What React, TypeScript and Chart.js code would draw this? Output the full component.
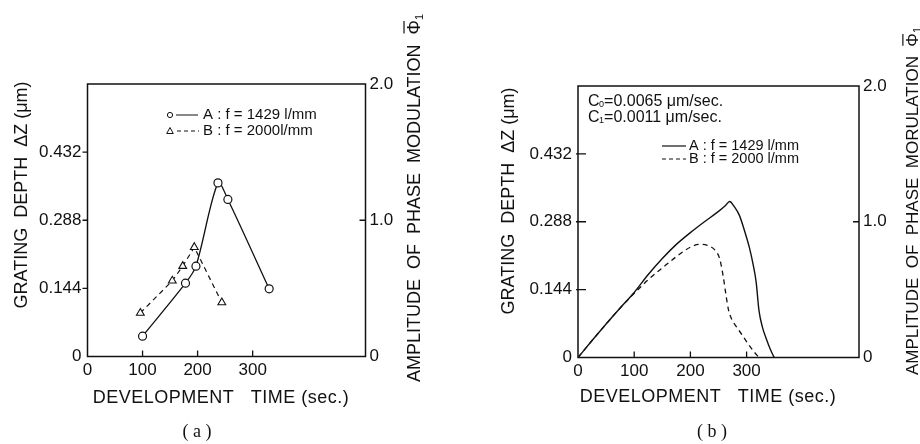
import React, { useEffect, useRef } from "react";
import { Chart, registerables } from "chart.js";

Chart.register(...registerables);

const FONT = "'Liberation Sans', Arial, sans-serif";
const SERIF = "'Liberation Serif', 'Times New Roman', serif";
const INK = "#111111";

// ---------- Panel (a): measured points ----------
const timeA1429 = [100, 178, 197, 237, 255, 330];
const depthA1429 = [0.043, 0.155, 0.191, 0.367, 0.332, 0.143];
const timeA2000 = [96, 154, 173, 194, 244];
const depthA2000 = [0.092, 0.16, 0.191, 0.231, 0.114];

// ---------- Panel (b): calculated curves ----------
const timeB1429 = [0, 25, 50, 75, 100, 125, 150, 175, 200, 225, 250, 262, 270, 277, 287, 296, 305, 312, 317, 322, 328, 335, 342, 349];
const depthB1429 = [0, 0.036, 0.071, 0.105, 0.138, 0.176, 0.21, 0.24, 0.265, 0.288, 0.31, 0.322, 0.331, 0.322, 0.302, 0.27, 0.233, 0.195, 0.16, 0.1, 0.065, 0.04, 0.018, 0];
const timeB2000 = [0, 25, 50, 75, 100, 125, 150, 175, 200, 215, 230, 245, 252, 258, 263, 268, 274, 282, 292, 302, 312, 322];
const depthB2000 = [0, 0.036, 0.071, 0.105, 0.136, 0.165, 0.19, 0.214, 0.234, 0.24, 0.238, 0.226, 0.21, 0.175, 0.135, 0.1, 0.08, 0.065, 0.048, 0.03, 0.014, 0];

// ---------- Axis ticks ----------
const depthTicks = [0, 0.144, 0.288, 0.432];
const phaseTicks = [0, 1.0, 2.0];
const timeTicks = [0, 100, 200, 300];
const DEPTH_MAX = 0.576;
const PHASE_MAX = 2.0;

const W = 460;
const H = 444;

const toXY = (xs: number[], ys: number[]) => xs.map((x, i) => ({ x, y: ys[i] }));

function drawRotated(ctx: CanvasRenderingContext2D, text: string, cx: number, cy: number, withPhi: boolean, size = 18) {
  ctx.save();
  ctx.translate(cx, cy);
  ctx.rotate(-Math.PI / 2);
  ctx.font = `${size}px ${FONT}`;
  ctx.fillStyle = INK;
  ctx.textBaseline = "alphabetic";
  ctx.textAlign = "left";
  const main = withPhi ? text + "  " : text;
  const wMain = ctx.measureText(main).width;
  let wPhi = 0;
  let wSub = 0;
  if (withPhi) {
    wPhi = ctx.measureText("Φ").width;
    ctx.font = `11px ${FONT}`;
    wSub = ctx.measureText("1").width;
    ctx.font = `${size}px ${FONT}`;
  }
  const total = wMain + wPhi + wSub;
  const x0 = -total / 2;
  const base = 6.5;
  ctx.fillText(main, x0, base);
  if (withPhi) {
    ctx.fillText("Φ", x0 + wMain, base);
    ctx.strokeStyle = INK;
    ctx.lineWidth = 1.2;
    ctx.beginPath();
    ctx.moveTo(x0 + wMain + 1, base - size * 0.86);
    ctx.lineTo(x0 + wMain + wPhi - 1, base - size * 0.86);
    ctx.stroke();
    ctx.font = `11px ${FONT}`;
    ctx.fillText("1", x0 + wMain + wPhi, base + 3);
  }
  ctx.restore();
}

function drawCenteredText(ctx: CanvasRenderingContext2D, text: string, cx: number, cy: number, font: string, spacing = "0px") {
  ctx.save();
  ctx.font = font;
  (ctx as any).letterSpacing = spacing;
  ctx.fillStyle = INK;
  ctx.textAlign = "center";
  ctx.textBaseline = "middle";
  ctx.fillText(text, cx, cy);
  ctx.restore();
}

type Spec = {
  area: { left: number; right: number; top: number; bottom: number };
  xMax: number;
  datasets: any[];
  leftTickOut: boolean;
  leftTitle: [number, number];
  rightTitle: [number, number];
  rightTitleText: string;
  rightTitleSize: number;
  xTitle: [number, number];
  caption: [number, number];
  captionText: string;
  extras: (ctx: CanvasRenderingContext2D) => void;
};

function makePlugin(spec: Spec) {
  return {
    id: "panelExtras",
    afterDraw(chart: any) {
      const ctx: CanvasRenderingContext2D = chart.ctx;
      const { left, right, top, bottom } = chart.chartArea;
      const xs = chart.scales.x;
      const ys = chart.scales.y;
      const y2 = chart.scales.y2;
      ctx.save();
      ctx.strokeStyle = INK;
      ctx.lineWidth = 1.5;
      ctx.strokeRect(left, top, right - left, bottom - top);
      ctx.lineWidth = 1.3;
      ctx.beginPath();
      timeTicks.filter((v) => v > 0).forEach((v) => {
        const px = xs.getPixelForValue(v);
        ctx.moveTo(px, bottom);
        ctx.lineTo(px, bottom - 6);
      });
      depthTicks.filter((v) => v > 0).forEach((v) => {
        const py = ys.getPixelForValue(v);
        if (spec.leftTickOut) {
          ctx.moveTo(left - 5, py);
          ctx.lineTo(left, py);
        } else {
          ctx.moveTo(left - 2, py);
          ctx.lineTo(left + 8, py);
        }
      });
      phaseTicks.filter((v) => v > 0 && v < PHASE_MAX).forEach((v) => {
        const py = y2.getPixelForValue(v);
        ctx.moveTo(right - 6, py);
        ctx.lineTo(right, py);
      });
      ctx.stroke();
      ctx.restore();

      drawRotated(ctx, "GRATING  DEPTH  ΔZ (μm)", spec.leftTitle[0], spec.leftTitle[1], false);
      drawRotated(ctx, spec.rightTitleText, spec.rightTitle[0], spec.rightTitle[1], true, spec.rightTitleSize);
      drawCenteredText(ctx, "DEVELOPMENT   TIME (sec.)", spec.xTitle[0], spec.xTitle[1], `18px ${FONT}`, "0.5px");
      drawCenteredText(ctx, spec.captionText, spec.caption[0], spec.caption[1], `18px ${SERIF}`);
      ctx.save();
      spec.extras(ctx);
      ctx.restore();
    },
  };
}

function Panel({ spec, offsetX }: { spec: Spec; offsetX: number }) {
  const ref = useRef<HTMLCanvasElement>(null);
  useEffect(() => {
    const canvas = ref.current!;
    const a = spec.area;
    const tickFont = { family: FONT, size: 17 };
    const noGrid = { display: false, drawTicks: false };
    const chart = new Chart(canvas, {
      type: "line",
      data: { datasets: spec.datasets },
      options: {
        responsive: false,
        animation: false,
        devicePixelRatio: 1,
        layout: { padding: { top: a.top, left: 0, right: 0, bottom: 0 } },
        plugins: { legend: { display: false }, tooltip: { enabled: false }, title: { display: false } },
        scales: {
          x: {
            type: "linear",
            min: 0,
            max: spec.xMax,
            grid: noGrid,
            border: { display: false },
            ticks: { font: tickFont, color: INK, padding: 4, maxRotation: 0, autoSkip: false, callback: (v: any) => String(v) },
            afterBuildTicks: (s: any) => {
              s.ticks = timeTicks.map((v) => ({ value: v }));
            },
            afterFit: (s: any) => {
              s.height = H - a.bottom;
            },
          },
          y: {
            type: "linear",
            position: "left",
            min: 0,
            max: DEPTH_MAX,
            grid: noGrid,
            border: { display: false },
            ticks: { font: tickFont, color: INK, padding: 6, callback: (v: any) => (v === 0 ? "0" : Number(v).toFixed(3)) },
            afterBuildTicks: (s: any) => {
              s.ticks = depthTicks.map((v) => ({ value: v }));
            },
            afterFit: (s: any) => {
              s.width = a.left;
            },
          },
          y2: {
            type: "linear",
            position: "right",
            min: 0,
            max: PHASE_MAX,
            grid: noGrid,
            border: { display: false },
            ticks: { font: tickFont, color: INK, padding: 4, callback: (v: any) => (v === 0 ? "0" : Number(v).toFixed(1)) },
            afterBuildTicks: (s: any) => {
              s.ticks = phaseTicks.map((v) => ({ value: v }));
            },
            afterFit: (s: any) => {
              s.width = W - a.right;
            },
          },
        },
      } as any,
      plugins: [makePlugin(spec) as any],
    });
    return () => chart.destroy();
  }, []);
  return (
    <canvas
      ref={ref}
      width={W}
      height={H}
      style={{ position: "absolute", left: offsetX, top: 0, width: W, height: H, display: "block" }}
    />
  );
}

const specA: Spec = {
  area: { left: 87.5, right: 365.5, top: 84, bottom: 356.5 },
  xMax: 505,
  leftTickOut: true,
  datasets: [
    {
      label: "A : f = 1429 l/mm",
      data: toXY(timeA1429, depthA1429),
      borderColor: INK,
      borderWidth: 1.3,
      tension: 0.3,
      pointStyle: "circle",
      pointRadius: 4,
      pointBackgroundColor: "#ffffff",
      pointBorderColor: INK,
      pointBorderWidth: 1.2,
      yAxisID: "y",
    },
    {
      label: "B : f = 2000l/mm",
      data: toXY(timeA2000, depthA2000),
      borderColor: INK,
      borderWidth: 1.2,
      borderDash: [5, 4],
      tension: 0,
      pointStyle: "triangle",
      pointRadius: 4.5,
      pointBackgroundColor: "#ffffff",
      pointBorderColor: INK,
      pointBorderWidth: 1.1,
      yAxisID: "y",
    },
  ],
  leftTitle: [20, 195],
  rightTitle: [413, 198],
  rightTitleText: "AMPLITUDE  OF  PHASE  MODULATION",
  rightTitleSize: 18,
  xTitle: [221, 398],
  caption: [197, 432],
  captionText: "( a )",
  extras: (ctx) => {
    ctx.strokeStyle = INK;
    ctx.fillStyle = INK;
    ctx.lineWidth = 1;
    ctx.font = `15px ${FONT}`;
    ctx.textBaseline = "middle";
    ctx.textAlign = "left";
    // row 1
    ctx.beginPath();
    ctx.arc(170, 115, 2.6, 0, Math.PI * 2);
    ctx.stroke();
    ctx.beginPath();
    ctx.moveTo(176, 115);
    ctx.lineTo(198, 115);
    ctx.stroke();
    ctx.fillText("A : f = 1429 l/mm", 203, 115);
    // row 2
    ctx.beginPath();
    ctx.moveTo(170, 127.5);
    ctx.lineTo(173.3, 133.5);
    ctx.lineTo(166.7, 133.5);
    ctx.closePath();
    ctx.stroke();
    ctx.setLineDash([4, 3]);
    ctx.beginPath();
    ctx.moveTo(177, 131);
    ctx.lineTo(199, 131);
    ctx.stroke();
    ctx.setLineDash([]);
    ctx.fillText("B : f = 2000l/mm", 203, 131);
  },
};

const specB: Spec = {
  area: { left: 118, right: 399, top: 86, bottom: 357.5 },
  xMax: 500,
  leftTickOut: false,
  datasets: [
    {
      label: "A : f = 1429 l/mm",
      data: toXY(timeB1429, depthB1429),
      borderColor: INK,
      borderWidth: 1.4,
      cubicInterpolationMode: "monotone",
      pointRadius: 0,
      yAxisID: "y",
    },
    {
      label: "B : f = 2000 l/mm",
      data: toXY(timeB2000, depthB2000),
      borderColor: INK,
      borderWidth: 1.3,
      borderDash: [5, 4],
      cubicInterpolationMode: "monotone",
      pointRadius: 0,
      yAxisID: "y",
    },
  ],
  leftTitle: [47, 201],
  rightTitle: [451, 201],
  rightTitleText: "AMPLITUDE  OF  PHASE  MORULATION",
  rightTitleSize: 17,
  xTitle: [248, 397],
  caption: [252, 432],
  captionText: "( b )",
  extras: (ctx) => {
    ctx.strokeStyle = INK;
    ctx.fillStyle = INK;
    ctx.textBaseline = "alphabetic";
    ctx.textAlign = "left";
    const cLine = (y: number, sub: string, rest: string) => {
      ctx.font = `16px ${FONT}`;
      ctx.fillText("C", 128, y);
      const wc = ctx.measureText("C").width;
      ctx.font = `9px ${FONT}`;
      ctx.fillText(sub, 128 + wc - 0.5, y + 1);
      const ws = ctx.measureText(sub).width;
      ctx.font = `16px ${FONT}`;
      ctx.fillText(rest, 128 + wc + ws - 0.5, y);
    };
    cLine(105.5, "0", "=0.0065 μm/sec.");
    cLine(122, "1", "=0.0011 μm/sec.");
    ctx.lineWidth = 1.2;
    ctx.beginPath();
    ctx.moveTo(202, 146);
    ctx.lineTo(226, 146);
    ctx.stroke();
    ctx.setLineDash([4, 3]);
    ctx.beginPath();
    ctx.moveTo(202, 159);
    ctx.lineTo(226, 159);
    ctx.stroke();
    ctx.setLineDash([]);
    ctx.font = `14.5px ${FONT}`;
    ctx.textBaseline = "middle";
    ctx.fillText("A : f = 1429 l/mm", 229, 146);
    ctx.fillText("B : f = 2000 l/mm", 229, 159);
  },
};

export default function App() {
  return (
    <div style={{ position: "absolute", left: 0, top: 0, width: 920, height: 444, background: "#ffffff", overflow: "hidden" }}>
      <Panel spec={specA} offsetX={0} />
      <Panel spec={specB} offsetX={460} />
    </div>
  );
}
